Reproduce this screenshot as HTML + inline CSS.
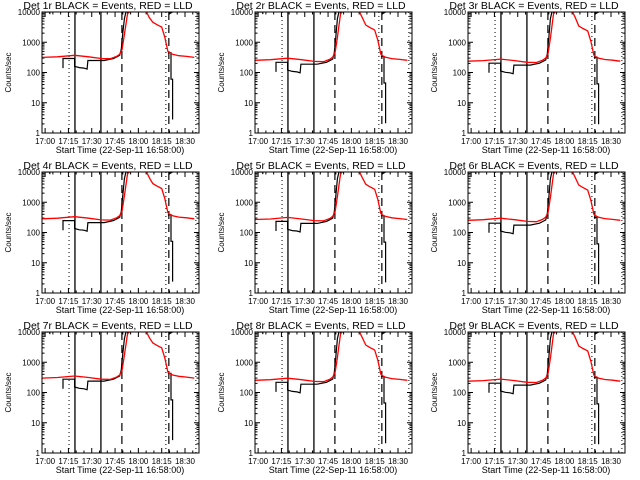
<!DOCTYPE html>
<html><head><meta charset="utf-8">
<style>
html,body{margin:0;padding:0;background:#fff;}
svg{display:block;font-family:"Liberation Sans",sans-serif;}
</style></head>
<body>
<svg id="chart" width="640" height="480" viewBox="0 0 640 480"></svg>
<script>
// Data: time in minutes since 16:58:00
const detectors = ["1r","2r","3r","4r","5r","6r","7r","8r","9r"];
const redScale = [1.0,0.8,0.75,0.9,0.85,0.8,0.95,0.8,0.75];
const blackScale = [1.0,0.75,0.7,0.85,0.8,0.7,0.95,0.75,0.7];
const redT = [0,10,21,30,38,44,48,50,51.5,53,55,56.5, null, 66.5,67.5,69,71.3,74,77,79,81,82,84,88,93,98];
const redV = [316,330,370,330,290,285,340,400,580,1800,8500,11000, null, 11000,9500,6500,4600,3800,3160,1470,500,450,400,360,340,316];
const blackT = [0,5,5,null,13.5,13.5,21,21,24,27,29,29.5,40,46,50,51,52,53,54,null,55,55,57,null,81,82,82,84,null,81,83,83,84,84];
const blackV = [10000,10000,8500,null,140,290,290,160,145,140,130,250,250,290,370,600,2000,6000,10000,null,8500,10000,10000,null,10000,10000,8800,10000,null,450,450,60,60,2.8];
const xTickLabels = ["17:00","17:15","17:30","17:45","18:00","18:15","18:30"];
const xTickVals = [2,17,32,47,62,77,92];
const yTickLabels = ["1","10","100","1000","10000"];
const yTickVals = [1,10,100,1000,10000];
const dottedT = [17.4,79.7,99];
const solidT = [21.2,37.9];
const dashedT = [51.4,81.6];

const NS="http://www.w3.org/2000/svg";
const svg=document.getElementById('chart');
function mk(tag,attrs,parent){const e=document.createElementNS(NS,tag);for(const k in attrs)e.setAttribute(k,attrs[k]);(parent||svg).appendChild(e);return e;}

detectors.forEach((det,i)=>{
  const col=i%3,row=Math.floor(i/3);
  const ox=Math.round(col*213), oy=row*160;
  const L=ox+42,R=ox+199,T=oy+12,B=oy+133;
  const xs=t=>L+(t)*(R-L)/101;
  const ys=v=>B-(Math.log10(v))*(B-T)/4;
  const g=mk('g',{});
  
  
  const clipId='clip'+i;
  const cp=mk('clipPath',{id:clipId},g);mk('rect',{x:L,y:T,width:R-L,height:B-T},cp);
  const title=mk('text',{x:ox+108,y:oy+9,'text-anchor':'middle','font-size':'10.5'},g);
  title.textContent='Det '+det+' BLACK = Events, RED = LLD';
  
  
  const yl=mk('text',{x:0,y:0,'text-anchor':'middle','font-size':'8',transform:`translate(${ox+11},${(T+B)/2}) rotate(-90)`},g);
  yl.textContent='Counts/sec';
  
  
  const xl=mk('text',{x:ox+120,y:oy+153,'text-anchor':'middle','font-size':'9'},g);
  xl.textContent='Start Time (22-Sep-11 16:58:00)';
  
  
  yTickVals.forEach((v,k)=>{
    const y=ys(v);
    mk('line',{x1:L,x2:L+5,y1:y,y2:y,stroke:'#000','stroke-width':1},g);
    mk('line',{x1:R,x2:R-5,y1:y,y2:y,stroke:'#000','stroke-width':1},g);
    const tx=mk('text',{x:L-2,y:y+3,'text-anchor':'end','font-size':'8'},g);
    tx.textContent=yTickLabels[k];
    
    
    if(k<4){for(let m=2;m<10;m++){const yy=ys(v*m);
      mk('line',{x1:L,x2:L+2.5,y1:yy,y2:yy,stroke:'#000','stroke-width':1},g);
      mk('line',{x1:R,x2:R-2.5,y1:yy,y2:yy,stroke:'#000','stroke-width':1},g);}}
  });
  xTickVals.forEach((t,k)=>{
    const x=xs(t);
    mk('line',{x1:x,x2:x,y1:B,y2:B-5,stroke:'#000'},g);
    mk('line',{x1:x,x2:x,y1:T,y2:T+5,stroke:'#000'},g);
    const tx=mk('text',{x:x,y:B+11,'text-anchor':'middle','font-size':'8'},g);
    tx.textContent=xTickLabels[k];
    
    
    for(let m=1;m<3;m++){const xm=xs(t+m*5);if(xm<R){
      mk('line',{x1:xm,x2:xm,y1:B,y2:B-2.5,stroke:'#000'},g);
      mk('line',{x1:xm,x2:xm,y1:T,y2:T+2.5,stroke:'#000'},g);}}
  });
  dottedT.forEach(t=>{const l=mk('line',{x1:xs(t),x2:xs(t),y1:T,y2:B,stroke:'#000','stroke-dasharray':'1,3'},g);
    });
  solidT.forEach(t=>{const l=mk('line',{x1:xs(t),x2:xs(t),y1:T,y2:B,stroke:'#000','stroke-width':1.3},g);
    });
  dashedT.forEach(t=>{const l=mk('line',{x1:xs(t),x2:xs(t),y1:T,y2:B,stroke:'#000','stroke-width':1.2,'stroke-dasharray':'8,5'},g);
    });
  function path(ts,vs,fn){let d='',pen=false;
    for(let k=0;k<ts.length;k++){if(ts[k]===null){pen=false;continue;}
      const v=Math.min(fn(vs[k]),11000);
      d+=(pen?'L':'M')+xs(ts[k]).toFixed(1)+','+ys(v).toFixed(1);pen=true;}
    return d;}
  const rs=redScale[i],bs=blackScale[i];
  const bp=mk('path',{d:path(blackT,blackV,v=>v>=5000?v:v*bs),fill:'none',stroke:'#000','stroke-width':1.2,'clip-path':`url(#${clipId})`},g);
  
  
  const rp=mk('path',{d:path(redT,redV,v=>v>=5000?v:v*rs),fill:'none',stroke:'#ff0000','stroke-width':1.3,'clip-path':`url(#${clipId})`},g);
  
  
  const fr=mk('rect',{x:L,y:T,width:R-L,height:B-T,fill:'none',stroke:'#000','stroke-width':1},g);
  
  
});
</script>
</body></html>
